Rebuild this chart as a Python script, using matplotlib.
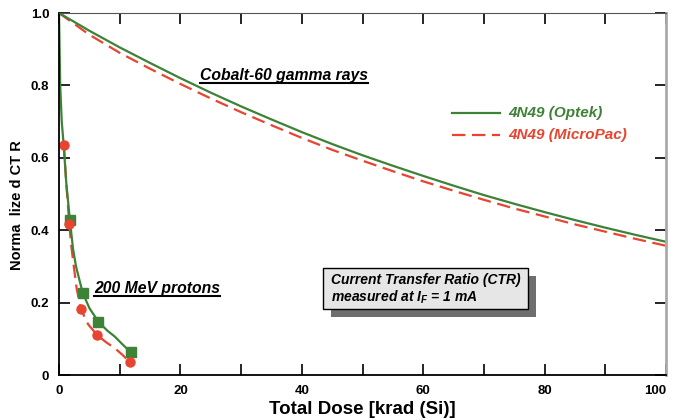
import numpy as np
import matplotlib
matplotlib.use("Agg")
from matplotlib import pyplot as plt
from matplotlib.patches import Rectangle
from matplotlib.lines import Line2D

plt.rcParams['font.family'] = ['Liberation Sans', 'DejaVu Sans']
plt.rcParams['font.weight'] = 'bold'
plt.rcParams['mathtext.fontset'] = 'custom'
plt.rcParams['mathtext.it'] = 'Liberation Sans:bold:italic'
plt.rcParams['mathtext.rm'] = 'Liberation Sans:bold:italic'

GREEN = '#3d8236'
RED = '#e8442f'

# Cobalt-60 gamma rays (every 5 krad)
gamma_dose = [0, 5, 10, 15, 20, 25, 30, 35, 40, 45, 50,
              55, 60, 65, 70, 75, 80, 85, 90, 95, 100]
gamma_optek = [1.0, 0.951, 0.905, 0.862, 0.82, 0.78, 0.742, 0.706, 0.671, 0.638, 0.607,
               0.578, 0.55, 0.523, 0.497, 0.473, 0.45, 0.428, 0.407, 0.387, 0.368]
gamma_micropac = [1.0, 0.94, 0.89, 0.846, 0.804, 0.764, 0.726, 0.69, 0.655, 0.622, 0.592,
                  0.563, 0.535, 0.509, 0.484, 0.46, 0.438, 0.416, 0.396, 0.376, 0.357]

# 200 MeV protons, measured points
p_optek_dose = [1.8, 3.9, 6.5, 11.8]
p_optek = [0.427, 0.227, 0.147, 0.063]
p_micro_dose = [0.8, 1.7, 3.6, 6.3, 11.7]
p_micro = [0.635, 0.417, 0.182, 0.11, 0.035]

# proton fit curves
c_optek_dose = [0, 0.1, 0.2, 0.45, 0.75, 1.2, 1.8, 2.3, 2.8, 3.9, 5.0, 6.5, 8.0, 9.2, 10.5, 11.8]
c_optek = [1.0, 0.9, 0.8, 0.7, 0.64, 0.53, 0.427, 0.35, 0.3, 0.227, 0.185, 0.147, 0.122, 0.106, 0.084, 0.063]
c_micro_dose = [0.8, 1.2, 1.7, 2.0, 2.36, 2.9, 3.6, 4.8, 6.3, 7.8, 9.2, 10.5, 11.7]
c_micro = [0.635, 0.53, 0.417, 0.36, 0.31, 0.24, 0.182, 0.14, 0.11, 0.09, 0.074, 0.055, 0.035]

fig = plt.figure(figsize=(6.74, 4.2), dpi=100)
ax = fig.add_axes([59 / 674, 1 - 375 / 420, 607 / 674, 362 / 420])

ax.plot(gamma_dose, gamma_micropac, color=RED, lw=1.6, ls=(0, (6, 3)))
ax.plot(gamma_dose, gamma_optek, color=GREEN, lw=1.6)
ax.plot(c_micro_dose, c_micro, color=RED, lw=1.6, ls=(0, (6, 3)))
ax.plot(c_optek_dose, c_optek, color=GREEN, lw=1.6)
ax.plot(p_optek_dose, p_optek, 's', color=GREEN, ms=6.5)
ax.plot(p_micro_dose, p_micro, 'o', color=RED, ms=6.5)

ax.set_xlim(0, 100)
ax.set_ylim(0, 1.0)
ax.set_xticks([0, 20, 40, 60, 80, 100])
ax.set_xticks(np.arange(10, 100, 20), minor=True)
ax.set_yticks([0, 0.2, 0.4, 0.6, 0.8, 1.0])
ax.set_yticklabels(['0', '0.2', '0.4', '0.6', '0.8', '1.0'])
ax.tick_params(which='both', direction='in', length=8, width=1.2,
               top=True, right=True, labelsize=9.5, pad=7)
ax.get_xticklabels()[-1].set_ha('right')
for s in ['left', 'bottom']:
    ax.spines[s].set_linewidth(1.3)
ax.spines['top'].set_color('#555555')
ax.spines['right'].set_color('#aaaaaa')
ax.spines['right'].set_linewidth(2)

ax.set_xlabel('Total Dose [krad (Si)]', fontsize=13.5, fontweight='bold', labelpad=3)
ax.set_ylabel('Norma  lize d CT R', fontsize=10.5, fontweight='bold')
ax.yaxis.set_label_coords(-0.058, 0.47)

# legend
ax.add_line(Line2D([452 / 674, 500 / 674], [1 - 113 / 420] * 2, transform=fig.transFigure,
                   color=GREEN, lw=1.6))
ax.add_line(Line2D([452 / 674, 500 / 674], [1 - 135 / 420] * 2, transform=fig.transFigure,
                   color=RED, lw=1.6, ls=(0, (6, 3))))
fig.text(508 / 674, 1 - 113 / 420, '4N49 (Optek)', color=GREEN, fontsize=11,
         fontstyle='italic', fontweight='bold', va='center')
fig.text(508 / 674, 1 - 135 / 420, '4N49 (MicroPac)', color=RED, fontsize=11,
         fontstyle='italic', fontweight='bold', va='center')

# labels with underline
t1 = fig.text(200 / 674, 1 - 80 / 420, 'Cobalt-60 gamma rays', fontsize=11.3,
              fontstyle='italic', fontweight='bold', va='baseline')
t2 = fig.text(94 / 674, 1 - 293 / 420, '200 MeV protons', fontsize=11.3,
              fontstyle='italic', fontweight='bold', va='baseline')

# box with shadow
fig.patches.append(Rectangle((331 / 674, 1 - 317 / 420), 205 / 674, 41 / 420,
                             transform=fig.transFigure, facecolor='#6e6e6e', edgecolor='none'))
fig.patches.append(Rectangle((323 / 674, 1 - 309 / 420), 205 / 674, 41 / 420,
                             transform=fig.transFigure, facecolor='#e6e6e6',
                             edgecolor='black', lw=1.0))
fig.text(331 / 674, 1 - 280 / 420, 'Current Transfer Ratio (CTR)', fontsize=10,
         fontstyle='italic', fontweight='bold', va='center')
fig.text(331 / 674, 1 - 297 / 420, 'measured at $I_F$ = 1 mA', fontsize=10,
         fontstyle='italic', fontweight='bold', va='center')

fig.canvas.draw()
r = fig.canvas.get_renderer()
for t in (t1, t2):
    bb = t.get_window_extent(r).transformed(fig.transFigure.inverted())
    y0 = t.get_position()[1] - 3 / 420
    fig.add_artist(Line2D([bb.x0, bb.x1], [y0, y0], transform=fig.transFigure,
                          color='black', lw=1.5))

fig.savefig('out.png', dpi=100)
